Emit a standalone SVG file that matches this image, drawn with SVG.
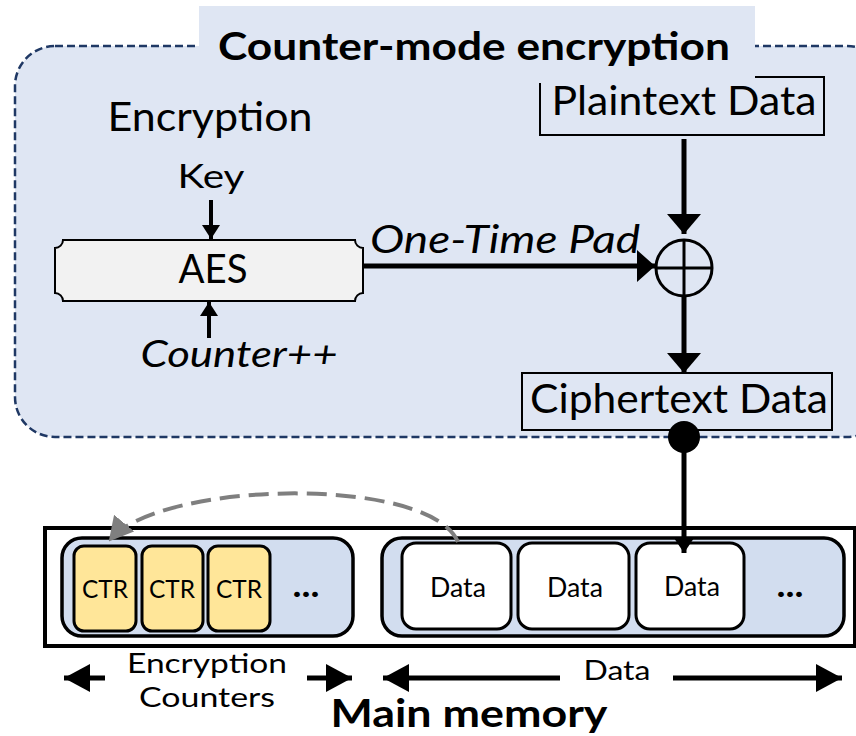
<svg xmlns="http://www.w3.org/2000/svg" width="856" height="736" viewBox="0 0 856 736">
  <defs>
    <style>
      .t { font-family: Lato, "Liberation Sans", sans-serif; fill: #000; }
      .b { font-weight: bold; }
      .i { font-style: italic; }
      .box { fill: none; stroke: #000; stroke-width: 2; }
      .thick { stroke: #000; stroke-width: 5; fill: none; }
      .mid { stroke: #000; stroke-width: 4; fill: none; }
      .ctr { fill: #ffe699; stroke: #000; stroke-width: 3; }
      .dat { fill: #fff; stroke: #000; stroke-width: 3; }
      .bank { fill: #d2ddef; stroke: #000; stroke-width: 3.5; }
    </style>
    <!-- large head for the data path -->
    <marker id="ahL" viewBox="0 0 20 34" refX="20" refY="17" markerWidth="20" markerHeight="34" markerUnits="userSpaceOnUse" orient="auto">
      <path d="M0,0 L20,17 L0,34 Z" fill="#000"/>
    </marker>
    <!-- head for the pad line -->
    <marker id="ahP" viewBox="0 0 18 32" refX="18" refY="16" markerWidth="18" markerHeight="32" markerUnits="userSpaceOnUse" orient="auto">
      <path d="M0,0 L18,16 L0,32 Z" fill="#000"/>
    </marker>
    <!-- span arrows under the memory -->
    <marker id="ahS" viewBox="0 0 26 28" refX="26" refY="14" markerWidth="26" markerHeight="28" markerUnits="userSpaceOnUse" orient="auto">
      <path d="M0,0 L26,14 L0,28 Z" fill="#000"/>
    </marker>
    <!-- small heads -->
    <marker id="ahT" viewBox="0 0 14 18" refX="14" refY="9" markerWidth="14" markerHeight="18" markerUnits="userSpaceOnUse" orient="auto">
      <path d="M0,0 L14,9 L0,18 Z" fill="#000"/>
    </marker>
    <marker id="ahD" viewBox="0 0 15 20" refX="15" refY="10" markerWidth="15" markerHeight="20" markerUnits="userSpaceOnUse" orient="auto">
      <path d="M0,0 L15,10 L0,20 Z" fill="#000"/>
    </marker>
    <marker id="ahG" viewBox="0 0 24 26" refX="22" refY="13" markerWidth="24" markerHeight="26" markerUnits="userSpaceOnUse" orient="auto">
      <path d="M0,0 L24,13 L0,26 Z" fill="#7f7f7f"/>
    </marker>
  </defs>

  <rect width="856" height="736" fill="#fff"/>

  <!-- encryption engine region -->
  <g id="engine">
    <rect x="15" y="46" width="872" height="391" rx="40" fill="#dfe6f3" stroke="#1f3864" stroke-width="2.5" stroke-dasharray="8 4"/>
  </g>

  <g id="plaintext">
    <rect class="box" x="540" y="77" width="284" height="58"/>
    <text class="t" x="684" y="115" font-size="41" text-anchor="middle" textLength="265" lengthAdjust="spacingAndGlyphs">Plaintext Data</text>
  </g>

  <g id="title">
    <rect x="199" y="6" width="556" height="77" fill="#dfe6f3"/>
    <text class="t b" x="474" y="60" font-size="39" text-anchor="middle" textLength="512" lengthAdjust="spacingAndGlyphs">Counter-mode encryption</text>
  </g>

  <g id="key">
    <text class="t" x="210" y="131" font-size="40" text-anchor="middle" textLength="205" lengthAdjust="spacingAndGlyphs">Encryption</text>
    <text class="t" x="211" y="188" font-size="32" text-anchor="middle" textLength="67" lengthAdjust="spacingAndGlyphs">Key</text>
  </g>

  <g id="aes">
    <path d="M63,240 H355 A8,8 0 0 0 363,248 V293 A8,8 0 0 0 355,301 H63 A8,8 0 0 0 55,293 V248 A8,8 0 0 0 63,240 Z" fill="#f2f2f2" stroke="#000" stroke-width="2"/>
    <text class="t" x="213" y="283" font-size="41" text-anchor="middle" textLength="69" lengthAdjust="spacingAndGlyphs">AES</text>
  </g>

  <g id="counter">
    <text class="t i" x="239" y="367" font-size="37" text-anchor="middle" textLength="197" lengthAdjust="spacingAndGlyphs">Counter++</text>
  </g>

  <g id="xor">
    <circle cx="684" cy="268" r="28" fill="none" stroke="#000" stroke-width="3"/>
    <line x1="656" y1="268" x2="712" y2="268" stroke="#000" stroke-width="3"/>
    <line x1="684" y1="240" x2="684" y2="296" stroke="#000" stroke-width="3"/>
  </g>

  <g id="ciphertext">
    <rect class="box" x="522" y="373" width="310" height="57"/>
    <text class="t" x="679" y="413" font-size="41" text-anchor="middle" textLength="298" lengthAdjust="spacingAndGlyphs">Ciphertext Data</text>
  </g>

  <!-- main memory -->
  <g id="memory">
    <rect x="45" y="528" width="810" height="118" fill="#fff" stroke="#000" stroke-width="4"/>
    <text class="t b" x="469" y="727" font-size="39" text-anchor="middle" textLength="277" lengthAdjust="spacingAndGlyphs">Main memory</text>
  </g>

  <g id="counter-bank">
    <rect class="bank" x="62" y="538" width="291" height="98" rx="20"/>
    <rect class="ctr" x="74" y="546" width="62" height="85" rx="10"/>
    <rect class="ctr" x="142" y="546" width="61" height="85" rx="10"/>
    <rect class="ctr" x="208" y="546" width="62" height="85" rx="10"/>
    <text class="t" x="105" y="598" font-size="25" text-anchor="middle" textLength="46" lengthAdjust="spacingAndGlyphs">CTR</text>
    <text class="t" x="172" y="598" font-size="25" text-anchor="middle" textLength="46" lengthAdjust="spacingAndGlyphs">CTR</text>
    <text class="t" x="239" y="598" font-size="25" text-anchor="middle" textLength="46" lengthAdjust="spacingAndGlyphs">CTR</text>
    <text class="t b" x="306" y="597" font-size="34" text-anchor="middle" textLength="27" lengthAdjust="spacingAndGlyphs">...</text>
  </g>

  <g id="data-bank">
    <rect class="bank" x="382" y="538" width="462" height="98" rx="20"/>
    <rect class="dat" x="402" y="543" width="109" height="86" rx="14"/>
    <rect class="dat" x="518" y="543" width="111" height="86" rx="14"/>
    <rect class="dat" x="636" y="543" width="108" height="86" rx="14"/>
    <text class="t" x="458" y="597" font-size="27" text-anchor="middle" textLength="56" lengthAdjust="spacingAndGlyphs">Data</text>
    <text class="t" x="575" y="597" font-size="27" text-anchor="middle" textLength="56" lengthAdjust="spacingAndGlyphs">Data</text>
    <text class="t" x="692" y="596" font-size="27" text-anchor="middle" textLength="56" lengthAdjust="spacingAndGlyphs">Data</text>
    <text class="t b" x="790" y="597" font-size="34" text-anchor="middle" textLength="27" lengthAdjust="spacingAndGlyphs">...</text>
  </g>

  <g id="span-labels">
    <text class="t" x="207" y="673" font-size="27" text-anchor="middle" textLength="160" lengthAdjust="spacingAndGlyphs">Encryption</text>
    <text class="t" x="207" y="707" font-size="27" text-anchor="middle" textLength="136" lengthAdjust="spacingAndGlyphs">Counters</text>
    <text class="t" x="617" y="680" font-size="26" text-anchor="middle" textLength="67" lengthAdjust="spacingAndGlyphs">Data</text>
  </g>

  <!-- connectors -->
  <g id="connectors">
    <line class="mid" x1="211" y1="200" x2="211" y2="239" marker-end="url(#ahT)"/>
    <line class="mid" x1="209" y1="338" x2="209" y2="302" marker-end="url(#ahT)"/>
    <line class="thick" x1="363" y1="266" x2="655" y2="266" marker-end="url(#ahP)"/>
    <text class="t i" x="505" y="253" font-size="39" text-anchor="middle" textLength="270" lengthAdjust="spacingAndGlyphs">One-Time Pad</text>
    <line class="thick" x1="684" y1="139" x2="684" y2="234" marker-end="url(#ahL)"/>
    <line class="thick" x1="684" y1="296" x2="684" y2="373" marker-end="url(#ahL)"/>
    <circle cx="684" cy="437" r="16" fill="#000"/>
    <line class="thick" x1="684" y1="437" x2="684" y2="553" marker-end="url(#ahD)"/>
    <path d="M458,542 C430,475 160,480 110,540" fill="none" stroke="#7f7f7f" stroke-width="4" stroke-dasharray="20 9" marker-end="url(#ahG)"/>
    <line class="thick" x1="105" y1="678" x2="64" y2="678" marker-end="url(#ahS)"/>
    <line class="thick" x1="307" y1="678" x2="352" y2="678" marker-end="url(#ahS)"/>
    <line class="thick" x1="560" y1="678" x2="383" y2="678" marker-end="url(#ahS)"/>
    <line class="thick" x1="673" y1="678" x2="842" y2="678" marker-end="url(#ahS)"/>
  </g>
</svg>
